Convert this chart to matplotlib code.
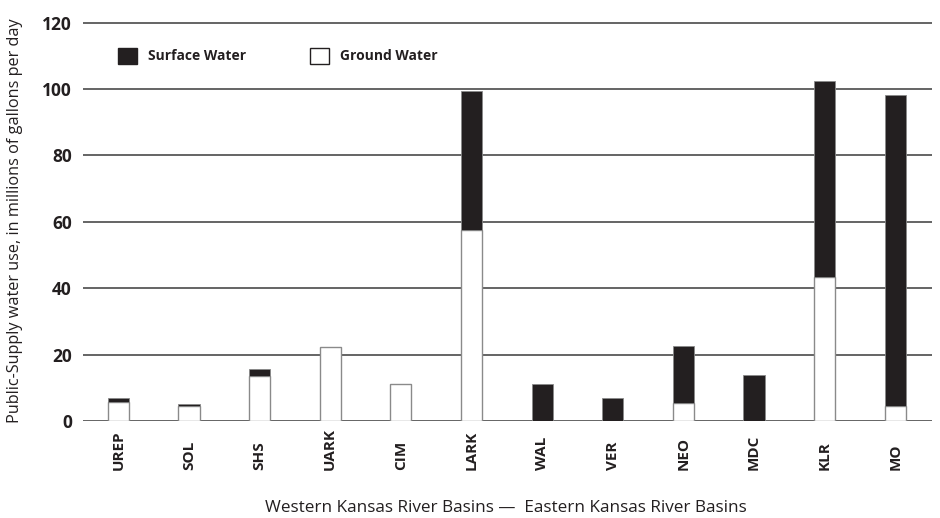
"""Public-supply water use by river basin, stacked surface/ground water."""

import matplotlib

matplotlib.use("Agg")

import matplotlib.pyplot as plt
import matplotlib.transforms as mtransforms
import numpy as np
from matplotlib.patches import Rectangle

plt.rcParams["font.family"] = ["Open Sans", "DejaVu Sans"]

basins = ["UREP", "SOL", "SHS", "UARK", "CIM", "LARK",
          "WAL", "VER", "NEO", "MDC", "KLR", "MO"]
ground_water = [5.8, 4.5, 13.5, 22.4, 11.2, 57.5, 0, 0, 5.3, 0, 43.5, 4.4]
surface_water = [1.0, 0.7, 2.1, 0, 0, 42.0, 11.2, 6.8, 17.4, 13.9, 58.9, 93.8]
y_ticks = [0, 20, 40, 60, 80, 100, 120]

BLACK = "#231f20"
EDGE = "#8a8a8a"

fig = plt.figure(figsize=(9.4, 5.18), dpi=100)
ax = fig.add_axes([0.0883, 0.1873, 0.9032, 0.7754])

x = np.arange(len(basins))
for yv in y_ticks:
    ax.axhline(yv, color="#3a3a3a", linewidth=1.1, zorder=1)

ax.bar(x, ground_water, width=0.3, color="white", edgecolor=EDGE,
       linewidth=1.0, zorder=2)
ax.bar(x, surface_water, width=0.3, bottom=ground_water, color=BLACK,
       edgecolor=EDGE, linewidth=0.6, zorder=2)

ax.set_xlim(-0.5, 11.52)
ax.set_ylim(0, 121)
for s in ax.spines.values():
    s.set_visible(False)
ax.tick_params(length=0)
ax.set_yticks(y_ticks)
ax.set_yticklabels([str(v) for v in y_ticks], fontsize=12.5, fontweight="bold",
                   color=BLACK)
ax.tick_params(axis="y", pad=8)
ax.set_xticks([])

# basin names sit on a common baseline, reading upward
trans = mtransforms.blended_transform_factory(ax.transData, fig.transFigure)
for xi, name in zip(x, basins):
    ax.text(xi, 0.0927, name, transform=trans, rotation=90, fontsize=11,
            fontweight="bold", ha="center", va="bottom", color=BLACK)

# legend drawn as in the source
ax.add_patch(Rectangle((0.0, 107.6), 0.26, 4.8, facecolor=BLACK,
                       edgecolor=BLACK, zorder=3, clip_on=False))
ax.text(0.42, 110, "Surface Water", fontsize=10, fontweight="bold",
        va="center", ha="left", color=BLACK)
ax.add_patch(Rectangle((2.72, 107.6), 0.26, 4.8, facecolor="white",
                       edgecolor=BLACK, linewidth=1.0, zorder=3, clip_on=False))
ax.text(3.14, 110, "Ground Water", fontsize=10, fontweight="bold",
        va="center", ha="left", color=BLACK)

fig.text(0.016, 0.573, "Public-Supply water use, in millions of gallons per day",
         rotation=90, va="center", ha="center", fontsize=11.7, color=BLACK)
fig.text(0.538, 0.019, "Western Kansas River Basins \u2014  Eastern Kansas River Basins",
         va="center", ha="center", fontsize=12.3, color=BLACK)

fig.savefig("out.png", dpi=100)
